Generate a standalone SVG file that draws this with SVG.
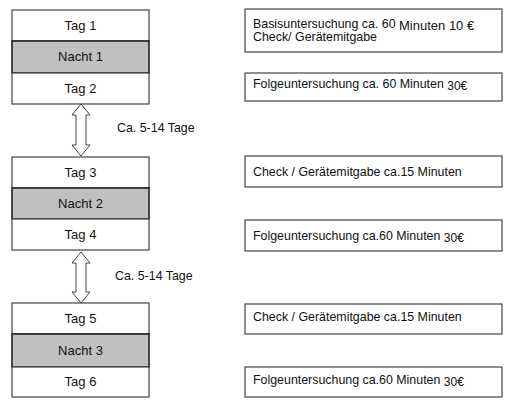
<svg xmlns="http://www.w3.org/2000/svg" width="513" height="409" viewBox="0 0 513 409">
<style>
.bg{fill:#fff}
.day{fill:#fff;stroke:#444;stroke-width:1.2}
.night{fill:#c0c0c0;stroke:#222;stroke-width:1.6}
.rbox{fill:#fff;stroke:#444;stroke-width:1.2}
.lbl{font-family:"Liberation Sans",Arial,sans-serif;font-size:13px;fill:#111;text-anchor:middle}
.txt{font-family:"Liberation Sans",Arial,sans-serif;font-size:12.4px;fill:#111}
.big{font-size:13px}
.sm{font-size:12px}
.arr{fill:#fff;stroke:#444;stroke-width:1}
</style>
<rect class="bg" x="0" y="0" width="513" height="409"/>
<g id="day1"><rect class="day" x="12" y="10" width="137" height="31"/><text class="lbl" x="80.5" y="30">Tag 1</text></g>
<g id="night1"><rect class="night" x="12" y="41" width="137" height="32"/><text class="lbl" x="80.5" y="61">Nacht 1</text></g>
<g id="day2"><rect class="day" x="12" y="73" width="137" height="31"/><text class="lbl" x="80.5" y="93">Tag 2</text></g>
<g id="day3"><rect class="day" x="12" y="157" width="137" height="31"/><text class="lbl" x="80.5" y="177">Tag 3</text></g>
<g id="night2"><rect class="night" x="12" y="188" width="137" height="31"/><text class="lbl" x="80.5" y="208">Nacht 2</text></g>
<g id="day4"><rect class="day" x="12" y="219" width="137" height="31"/><text class="lbl" x="80.5" y="239">Tag 4</text></g>
<g id="day5"><rect class="day" x="12" y="303" width="137" height="31"/><text class="lbl" x="80.5" y="323">Tag 5</text></g>
<g id="night3"><rect class="night" x="12" y="334" width="137" height="33"/><text class="lbl" x="80.5" y="355">Nacht 3</text></g>
<g id="day6"><rect class="day" x="12" y="367" width="137" height="30"/><text class="lbl" x="80.5" y="386">Tag 6</text></g>
<g id="info1"><rect class="rbox" x="245" y="9" width="257" height="43"/><text class="txt" x="253" y="28">Basisuntersuchung ca. 60 <tspan class="big" dy="1.5">Minuten 10 €</tspan></text><text class="txt" x="253" y="41">Check/ Gerätemitgabe</text></g>
<g id="info2"><rect class="rbox" x="245" y="73" width="257" height="28"/><text class="txt" x="253" y="88">Folgeuntersuchung ca. 60 Minuten <tspan class="sm" dy="2">30€</tspan></text></g>
<g id="info3"><rect class="rbox" x="245" y="156" width="257" height="31"/><text class="txt" x="253" y="176">Check / Gerätemitgabe ca.15 Minuten</text></g>
<g id="info4"><rect class="rbox" x="245" y="220" width="257" height="31"/><text class="txt" x="253" y="240">Folgeuntersuchung ca.60 Minuten <tspan class="sm" dy="2">30€</tspan></text></g>
<g id="info5"><rect class="rbox" x="245" y="304" width="257" height="30"/><text class="txt" x="253" y="321">Check / Gerätemitgabe ca.15 Minuten</text></g>
<g id="info6"><rect class="rbox" x="245" y="367" width="257" height="30"/><text class="txt" x="253" y="384">Folgeuntersuchung ca.60 Minuten <tspan class="sm" dy="2">30€</tspan></text></g>
<g id="connectors">
<path class="arr" d="M81,104 L90,115 L86,115 L86,145 L90,145 L81,156 L72,145 L76,145 L76,115 L72,115 Z"/>
<path class="arr" d="M81,252 L90,263 L86,263 L86,292 L90,292 L81,303 L72,292 L76,292 L76,263 L72,263 Z"/>
<text class="txt" x="117" y="132">Ca. 5-14 Tage</text>
<text class="txt" x="115" y="280">Ca. 5-14 Tage</text>
</g>
</svg>
